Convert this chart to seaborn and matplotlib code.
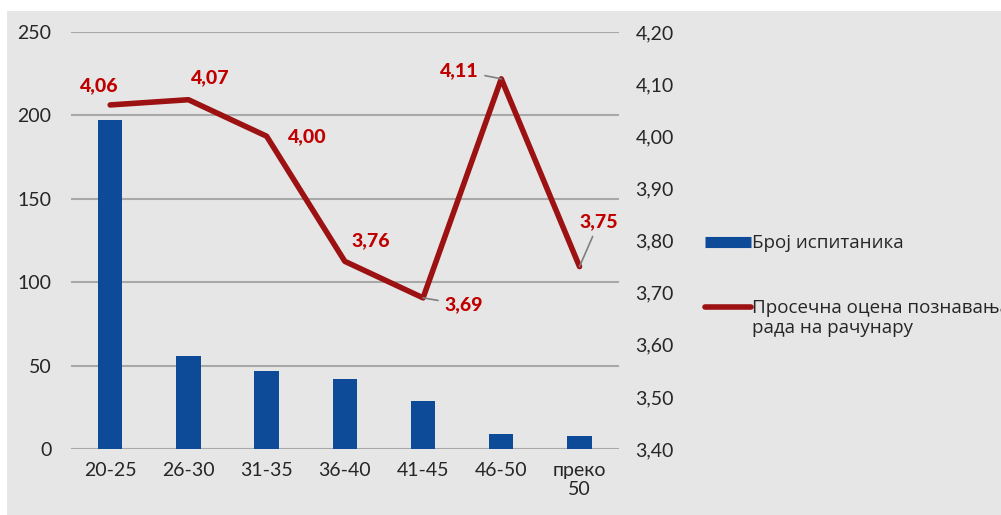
import seaborn as sns
import matplotlib.pyplot as plt
import matplotlib.patches as mpatches
import matplotlib.lines as mlines
import pandas as pd

groups = ['20-25', '26-30', '31-35', '36-40', '41-45', '46-50', 'преко\n50']
respondents = [197, 56, 47, 42, 29, 9, 8]
avg_score = [4.06, 4.07, 4.00, 3.76, 3.69, 4.11, 3.75]
score_labels = ['4,06', '4,07', '4,00', '3,76', '3,69', '4,11', '3,75']
left_ticks = [0, 50, 100, 150, 200, 250]
right_ticks = [3.4, 3.5, 3.6, 3.7, 3.8, 3.9, 4.0, 4.1, 4.2]

BLUE = '#0d4b98'
RED = '#9c1111'
LABEL_RED = '#c00000'
BG = '#e6e6e6'

if __name__ == '__main__':
    sns.set_style('white')
    plt.rcParams['font.family'] = ['Lato', 'DejaVu Sans']
    legend_font = {'family': ['Open Sans', 'DejaVu Sans'], 'size': 13.5}

    df = pd.DataFrame({'group': groups, 'count': respondents, 'score': avg_score})

    fig = plt.figure(figsize=(10.01, 5.15), dpi=100, facecolor='white')
    fig.patches.append(mpatches.Rectangle((0.007, 0), 0.993, 0.979, transform=fig.transFigure,
                                          facecolor=BG, edgecolor='none', zorder=-10))
    ax = fig.add_axes([0.071, 0.128, 0.547, 0.81])
    ax.set_facecolor('none')

    sns.barplot(data=df, x='group', y='count', color=BLUE, width=0.31, saturation=1,
                linewidth=0, ax=ax)
    ax.set_ylim(0, 250)
    ax.set_xlim(-0.5, 6.5)
    ax.set_yticks(left_ticks)
    ax.yaxis.grid(True, color='#a8a8a8', linewidth=1.5)
    ax.set_axisbelow(True)
    ax.set_xlabel('')
    ax.set_ylabel('')
    ax.tick_params(axis='both', length=0, labelsize=14, colors='#262626')
    ax.tick_params(axis='y', pad=14)
    ax.tick_params(axis='x', pad=9)
    for s in ax.spines.values():
        s.set_visible(False)

    ax2 = ax.twinx()
    sns.lineplot(x=list(range(len(groups))), y=avg_score, color=RED, linewidth=4,
                 sort=False, ax=ax2)
    ax2.set_ylim(3.4, 4.2)
    ax2.set_yticks(right_ticks)
    ax2.set_yticklabels([f'{v:.2f}'.replace('.', ',') for v in right_ticks])
    ax2.tick_params(axis='y', length=0, labelsize=14, colors='#262626', pad=12)
    for s in ax2.spines.values():
        s.set_visible(False)

    # data labels (offsets in points)
    offsets = [(-8, 14), (16, 16), (29, 0), (19, 15), (29, -5), (-30, 6), (14, 32)]
    leaders = [False, False, False, False, True, True, True]
    for i, (v, lab) in enumerate(zip(avg_score, score_labels)):
        dx, dy = offsets[i]
        props = dict(arrowstyle='-', color='#808080', lw=1.2, shrinkA=2, shrinkB=0) if leaders[i] else None
        ax2.annotate(lab, (i, v), xytext=(dx, dy), textcoords='offset points',
                     ha='center', va='center', fontsize=14, fontweight='black',
                     color=LABEL_RED, arrowprops=props)

    h1 = mlines.Line2D([], [], color=BLUE, linewidth=8, solid_capstyle='butt')
    h2 = mlines.Line2D([], [], color=RED, linewidth=4, solid_capstyle='round')
    fig.legend([h1, h2], ['Број испитаника', 'Просечна оцена познавања'],
               loc='upper left', bbox_to_anchor=(0.687, 0.578), frameon=False,
               prop=legend_font, handlelength=2.5, handletextpad=0.05,
               labelspacing=2.5, labelcolor='#262626')
    # second line of the long legend label, aligned under the first line
    fig.text(0.751, 0.363, 'рада на рачунару', va='center', ha='left',
             color='#262626', fontfamily=legend_font['family'], fontsize=legend_font['size'])

    fig.savefig('out.png', dpi=100, facecolor='white')
